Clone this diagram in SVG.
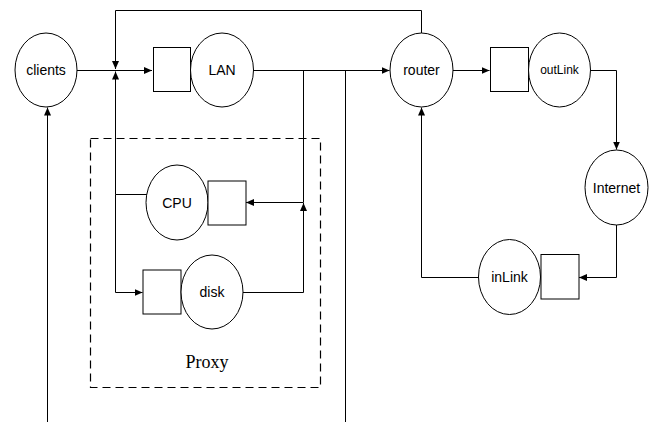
<svg xmlns="http://www.w3.org/2000/svg" width="654" height="422" viewBox="0 0 654 422">
<style>
.n{fill:#fff;stroke:#000;stroke-width:1}
.t{font-family:"Liberation Sans",Arial,sans-serif;font-size:14px;fill:#000;text-anchor:middle;dominant-baseline:central}
.s{font-size:12px}
.e{fill:none;stroke:#000;stroke-width:1}
</style>
<defs>
<marker id="a" markerUnits="userSpaceOnUse" markerWidth="9" markerHeight="8" refX="8" refY="3.5" orient="auto">
<path d="M0,0 L8,3.5 L0,7 z" fill="#000"/>
</marker>
</defs>
<rect width="654" height="422" fill="#fff"/>
<g id="proxy">
<rect x="90.5" y="138.5" width="230" height="249" fill="none" stroke="#000" stroke-width="1.2" stroke-dasharray="8 5"/>
<text x="207" y="368" font-family="'Liberation Serif','Times New Roman',serif" font-size="18" text-anchor="middle">Proxy</text>
</g>
<g id="connectors">
<path class="e" d="M77,70.5 L152,70.5" marker-end="url(#a)"/>
<path class="e" d="M421.5,33 L421.5,10.5 L115.5,10.5 L115.5,69" marker-end="url(#a)"/>
<path class="e" d="M147,194.5 L115.5,194.5 L115.5,71.5" marker-end="url(#a)"/>
<path class="e" d="M115.5,194.5 L115.5,292.5 L142.5,292.5" marker-end="url(#a)"/>
<path class="e" d="M253,70.5 L389.5,70.5" marker-end="url(#a)"/>
<path class="e" d="M303.5,70.5 L303.5,202.5 L246,202.5" marker-end="url(#a)"/>
<path class="e" d="M243,292.5 L303.5,292.5 L303.5,203" marker-end="url(#a)"/>
<path class="e" d="M345.5,70.5 L345.5,422"/>
<path class="e" d="M47.5,422 L47.5,107.5" marker-end="url(#a)"/>
<path class="e" d="M453,70.5 L489.5,70.5" marker-end="url(#a)"/>
<path class="e" d="M591,70.5 L616.5,70.5 L616.5,149.5" marker-end="url(#a)"/>
<path class="e" d="M616.5,225 L616.5,277.5 L579,277.5" marker-end="url(#a)"/>
<path class="e" d="M478,277.5 L421.5,277.5 L421.5,107.5" marker-end="url(#a)"/>
</g>
<g id="clients"><ellipse class="n" cx="46" cy="70" rx="31" ry="37"/><text class="t" x="46" y="70">clients</text></g>
<g id="lan-queue"><rect class="n" x="153.5" y="47.5" width="37" height="44"/></g>
<g id="lan"><ellipse class="n" cx="222" cy="70" rx="31.5" ry="37"/><text class="t" x="222" y="70">LAN</text></g>
<g id="cpu"><ellipse class="n" cx="177" cy="202.5" rx="31" ry="37.5"/><text class="t" x="177" y="202.5">CPU</text></g>
<g id="cpu-queue"><rect class="n" x="208" y="181" width="38" height="44"/></g>
<g id="disk-queue"><rect class="n" x="143" y="270" width="38" height="44"/></g>
<g id="disk"><ellipse class="n" cx="212" cy="292" rx="31" ry="37"/><text class="t" x="212" y="292">disk</text></g>
<g id="router"><ellipse class="n" cx="421.5" cy="70" rx="31.5" ry="37"/><text class="t" x="421.5" y="70">router</text></g>
<g id="outlink-queue"><rect class="n" x="490.5" y="47.5" width="38" height="44"/></g>
<g id="outlink"><ellipse class="n" cx="559.5" cy="70" rx="31" ry="37"/><text class="t s" x="559.5" y="70">outLink</text></g>
<g id="internet"><ellipse class="n" cx="616.5" cy="187.5" rx="31.5" ry="37.5"/><text class="t" x="616.5" y="187.5">Internet</text></g>
<g id="inlink"><ellipse class="n" cx="509.5" cy="277" rx="31" ry="37.5"/><text class="t" x="509.5" y="277">inLink</text></g>
<g id="inlink-queue"><rect class="n" x="541" y="254.5" width="38" height="44.5"/></g>
</svg>
